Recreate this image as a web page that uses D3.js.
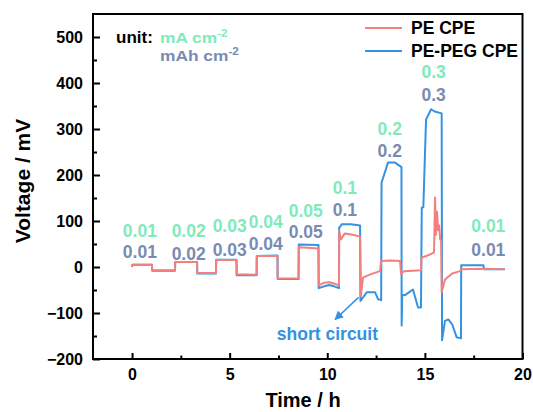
<!DOCTYPE html>
<html>
<head>
<meta charset="utf-8">
<script src="https://cdn.jsdelivr.net/npm/d3@7"></script>
<style>
  body { margin: 0; background: #fff; }
  svg { display: block; }
  text { font-family: "Liberation Sans", Arial, "Noto Sans CJK SC", sans-serif; font-weight: bold; }
</style>
</head>
<body>
<svg id="chart" width="533" height="412"></svg>
<script>
// ---------- data ----------
const peTime = [0, 0.02, 1.02, 1.03, 2.2, 2.21, 3.33, 3.34, 4.3, 4.31, 5.35, 5.36, 6.38, 6.39, 7.45, 7.46, 8.53, 8.54, 9.0, 9.55, 9.56, 9.85, 10.1, 10.35, 10.6, 10.61, 10.7, 10.9, 11.3, 11.68, 11.72, 11.83, 12.2, 12.7, 12.76, 13.2, 13.73, 13.78, 13.93, 14.4, 14.8, 14.82, 15.2, 15.47, 15.52, 15.57, 15.62, 15.68, 15.73, 15.78, 15.83, 15.86, 16.03, 16.4, 16.8, 16.85, 18.0, 19.1];
const peVolt = [0, 5, 5, -7, -7, 11, 11, -13, -13, 15, 15, -16, -17, 24, 24, -25, -25, 43, 42, 40, -40, -34, -33, -36, -40, 78, 60, 73, 70, 66, -63, -23, -16, -9, 13, 14, 13, -16, -9, -8, -7, 20, 26, 32, 151, 70, 120, 80, 90, 60, 58, -55, -27, -14, -9, -5, -4, -5];

const pegTime = [0, 0.02, 1.02, 1.03, 2.2, 2.21, 3.33, 3.34, 4.3, 4.31, 5.35, 5.36, 6.38, 6.39, 7.45, 7.46, 8.53, 8.54, 9.55, 9.56, 9.85, 10.1, 10.35, 10.6, 10.61, 10.75, 11.2, 11.68, 11.7, 12.02, 12.45, 12.6, 12.76, 12.78, 13.11, 13.47, 13.8, 13.81, 13.84, 13.98, 14.39, 14.65, 14.8, 14.84, 14.92, 15.06, 15.32, 15.5, 15.86, 15.88, 16.03, 16.2, 16.4, 16.63, 16.85, 16.86, 18.0, 18.03, 19.1];
const pegVolt = [0, 5, 5, -8, -8, 11, 11, -14, -14, 16, 16, -18, -18, 24, 25, -26, -26, 49, 48, -46, -42, -39, -42, -46, 85, 93, 93, 90, -74, -55, -55, -70, -72, 183, 227, 227, 217, -127, -61, -61, -49, -88, -88, 129, 130, 321, 343, 338, 334, -159, -117, -114, -125, -153, -155, 4, 4, -5, -5];

const seriesNames = ["PE CPE", "PE-PEG CPE"];
const seriesColors = ["#F47F7F", "#3392E2"];

const xTicks = [0, 5, 10, 15, 20];
const xMinorTicks = [2.5, 7.5, 12.5, 17.5];
const yTicks = [-200, -100, 0, 100, 200, 300, 400, 500];
const yMinorTicks = [-150, -50, 50, 150, 250, 350, 450];

// current density (mA cm-2) and capacity (mAh cm-2) labels
const currentLabels = ["0.01", "0.02", "0.03", "0.04", "0.05", "0.1", "0.2", "0.3", "0.01"];
const capacityLabels = ["0.01", "0.02", "0.03", "0.04", "0.05", "0.1", "0.2", "0.3", "0.01"];
const labelTime = [0.4, 2.9, 5.0, 6.85, 8.9, 10.9, 13.2, 15.45, 18.25];
const currentLabelV = [65, 65, 76, 85, 109, 159, 287, 410, 77];
const capacityLabelV = [20, 16, 25, 38, 62, 111, 240, 360, 25];

// ---------- layout ----------
const svg = d3.select("#chart");
const x = d3.scaleLinear().domain([-2, 20]).range([93, 522.5]);
const y = d3.scaleLinear().domain([-200, 550]).range([359, 14]);

const green = "#7FEBBA";
const slate = "#7A8BB3";

// clip
svg.append("clipPath").attr("id", "clip").append("rect")
  .attr("x", x(-2)).attr("y", y(550)).attr("width", x(20) - x(-2)).attr("height", y(-200) - y(550));

// lines
const line = d3.line().x(d => x(d[0])).y(d => y(d[1]));
const peData = peTime.map((t, i) => [t, peVolt[i]]);
const pegData = pegTime.map((t, i) => [t, pegVolt[i]]);

const g = svg.append("g").attr("clip-path", "url(#clip)");
g.append("path").datum(pegData).attr("d", line)
  .attr("fill", "none").attr("stroke", seriesColors[1]).attr("stroke-width", 2).attr("stroke-linejoin", "round");
g.append("path").datum(peData).attr("d", line)
  .attr("fill", "none").attr("stroke", seriesColors[0]).attr("stroke-width", 2).attr("stroke-linejoin", "round");

// axes
const xAxis = d3.axisBottom(x).tickValues(xTicks).tickSize(-6).tickPadding(10).tickFormat(d3.format("d"));
const xAxisMinor = d3.axisBottom(x).tickValues(xMinorTicks).tickSize(-3.5).tickFormat("");
const yAxis = d3.axisLeft(y).tickValues(yTicks).tickSize(-7).tickPadding(10).tickFormat(d3.format("d"));
const yAxisMinor = d3.axisLeft(y).tickValues(yMinorTicks).tickSize(-4).tickFormat("");

function styleAxis(sel) {
  sel.select(".domain").remove();
  sel.selectAll("line").attr("stroke", "#000").attr("stroke-width", 2);
  sel.selectAll("text").attr("fill", "#000").style("font-size", "16px").style("font-weight", "bold");
}
svg.append("g").attr("transform", `translate(0,${y(-200)})`).call(xAxis).call(styleAxis);
svg.append("g").attr("transform", `translate(0,${y(-200)})`).call(xAxisMinor).call(styleAxis);
svg.append("g").attr("transform", `translate(${x(-2)},0)`).call(yAxis).call(styleAxis);
svg.append("g").attr("transform", `translate(${x(-2)},0)`).call(yAxisMinor).call(styleAxis);

// frame
svg.append("rect").attr("x", x(-2)).attr("y", y(550))
  .attr("width", x(20) - x(-2)).attr("height", y(-200) - y(550))
  .attr("fill", "none").attr("stroke", "#000").attr("stroke-width", 2);

// axis titles
svg.append("text").attr("x", 303).attr("y", 407).attr("text-anchor", "middle")
  .style("font-size", "20px").text("Time / h");
svg.append("text").attr("transform", "translate(30,181) rotate(-90)").attr("text-anchor", "middle")
  .style("font-size", "21px").text("Voltage / mV");

// unit annotation
svg.append("text").attr("x", 116).attr("y", 43).style("font-size", "17px").attr("fill", "#000").text("unit:");
const unitG = svg.append("g").attr("transform", "translate(160,0) scale(1.12,1)");
const t1 = unitG.append("text").attr("x", 0).attr("y", 43).style("font-size", "15.5px").attr("fill", green);
t1.append("tspan").text("mA cm");
t1.append("tspan").attr("dy", -6).style("font-size", "10.5px").text("-2");
const t2 = unitG.append("text").attr("x", 0).attr("y", 61.5).style("font-size", "15.5px").attr("fill", slate);
t2.append("tspan").text("mAh cm");
t2.append("tspan").attr("dy", -6).style("font-size", "10.5px").text("-2");

// legend
const legendY = [28, 51];
seriesNames.forEach((name, i) => {
  svg.append("line").attr("x1", 365).attr("x2", 402).attr("y1", legendY[i]).attr("y2", legendY[i])
    .attr("stroke", seriesColors[i]).attr("stroke-width", 2);
  svg.append("text").attr("x", 411).attr("y", legendY[i] + 6).style("font-size", "17.5px")
    .attr("fill", "#000").text(name);
});

// step labels
svg.append("g").selectAll("text").data(currentLabels).join("text")
  .attr("x", (d, i) => x(labelTime[i])).attr("y", (d, i) => y(currentLabelV[i]))
  .attr("text-anchor", "middle").style("font-size", "17.5px").attr("fill", green).text(d => d);
svg.append("g").selectAll("text").data(capacityLabels).join("text")
  .attr("x", (d, i) => x(labelTime[i])).attr("y", (d, i) => y(capacityLabelV[i]))
  .attr("text-anchor", "middle").style("font-size", "17.5px").attr("fill", slate).text(d => d);

// short circuit annotation
svg.append("defs").append("marker").attr("id", "arrow")
  .attr("viewBox", "0 0 10 10").attr("refX", 9).attr("refY", 5)
  .attr("markerWidth", 6).attr("markerHeight", 6).attr("orient", "auto")
  .append("path").attr("d", "M0,0 L10,5 L0,10 Z").attr("fill", seriesColors[1]);
svg.append("line").attr("x1", x(11.6)).attr("y1", y(-66)).attr("x2", x(10.4)).attr("y2", y(-114))
  .attr("stroke", seriesColors[1]).attr("stroke-width", 1.5).attr("marker-end", "url(#arrow)");
svg.append("text").attr("x", 378).attr("y", 340).attr("text-anchor", "end")
  .style("font-size", "17.5px").attr("fill", seriesColors[1]).text("short circuit");
</script>
</body>
</html>
